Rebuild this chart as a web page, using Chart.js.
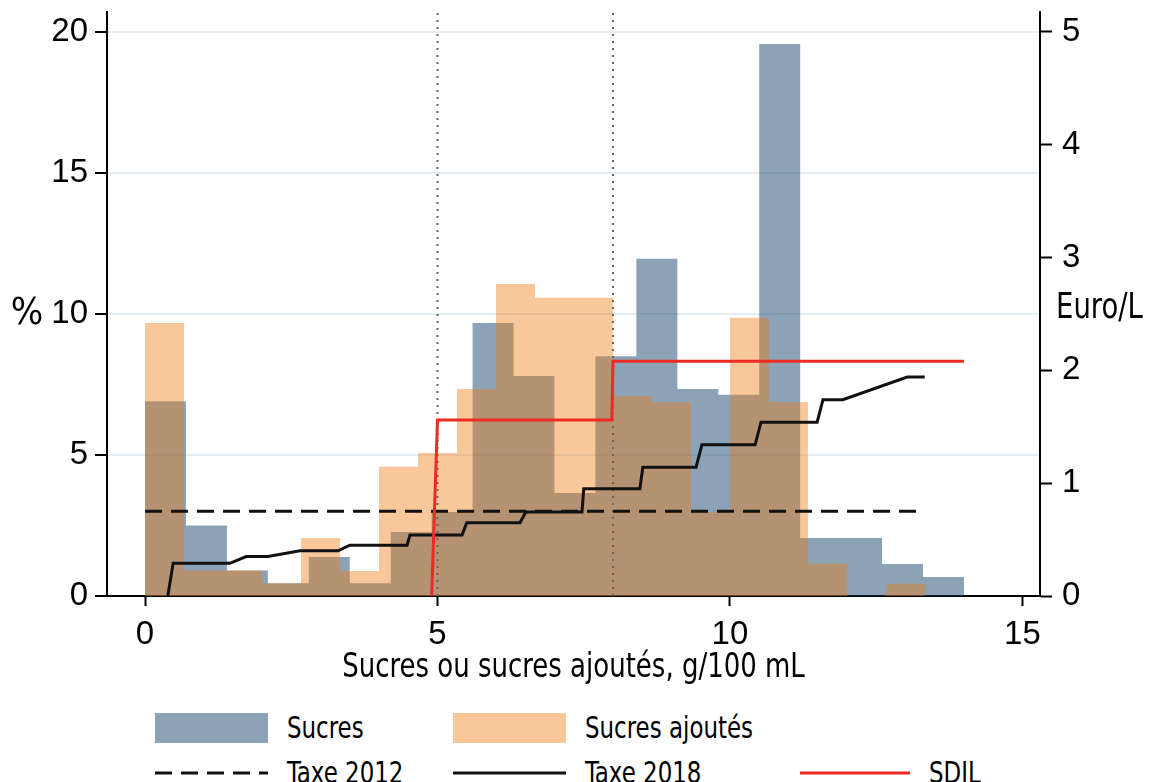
<!DOCTYPE html>
<html>
<head>
<meta charset="utf-8">
<script src="https://cdn.jsdelivr.net/npm/chart.js@4.4.1/dist/chart.umd.min.js"></script>
<style>
    html, body { margin: 0; padding: 0; background: #ffffff; }
    #wrap {
        position: relative;
        width: 1150px;
        height: 782px;
        overflow: hidden;
        font-family: "DejaVu Sans Condensed", "Liberation Sans Narrow", sans-serif;
    }
    #chartBox { position: absolute; left: 0; top: 0; width: 1150px; height: 700px; }
    #legend {
        position: absolute;
        left: 155px;
        top: 705px;
        display: grid;
        grid-template-columns: 298px 347px 220px;
        grid-auto-rows: 45px;
        align-items: center;
    }
    .item { display: flex; align-items: center; font-size: 30px; color: #000; white-space: nowrap; }
    .item span.txt { display: inline-block; transform: scaleX(0.85); transform-origin: left center; }
    .swatch { width: 113px; height: 30px; margin-right: 19px; flex: none; }
    .lineSwatch { margin-right: 19px; flex: none; display: block; }
</style>
</head>
<body>
<div id="wrap">
    <div id="chartBox"><canvas id="sugarChart"></canvas></div>
    <div id="legend"></div>
</div>
<script>
const xTicks = [0, 5, 10, 15];
const yTicks = [0, 5, 10, 15, 20];
const y2Ticks = [0, 1, 2, 3, 4, 5];

// histogramme des sucres (%), bornes des classes en g/100 mL
const sucresEdges = [0, 0.7, 1.4, 2.1, 2.8, 3.5, 4.2, 4.9, 5.6, 6.3, 7.0, 7.7, 8.4, 9.1, 9.8, 10.5, 11.2, 11.9, 12.6, 13.3, 14.0];
const sucresPct = [6.9, 2.5, 0.9, 0.45, 1.38, 0.45, 2.27, 2.98, 9.68, 7.8, 3.65, 8.5, 11.95, 7.34, 7.13, 19.57, 2.06, 2.06, 1.13, 0.67];

const ajoutesEdges = [0, 0.667, 1.333, 2.0, 2.667, 3.333, 4.0, 4.667, 5.333, 6.0, 6.667, 7.333, 8.0, 8.667, 9.333, 10.0, 10.667, 11.333, 12.0, 12.667, 13.333];
const ajoutesPct = [9.68, 0.9, 0.9, 0.45, 2.06, 0.89, 4.58, 5.07, 7.34, 11.06, 10.57, 10.57, 7.09, 6.88, 2.98, 9.86, 6.88, 1.15, 0, 0.43];

// taxes en Euro/L
const taxe2012X = [0, 13.33];
const taxe2012Y = [0.75, 0.75];

const taxe2018X = [0.39, 0.48, 1.45, 1.73, 2.10, 2.65, 3.30, 3.50, 4.48, 4.53, 5.42, 5.50, 6.41, 6.51, 7.47, 7.50, 8.46, 8.51, 9.42, 9.52, 10.43, 10.53, 11.49, 11.59, 11.93, 13.03, 13.33];
const taxe2018Y = [0, 0.29, 0.29, 0.35, 0.35, 0.40, 0.40, 0.45, 0.45, 0.54, 0.54, 0.65, 0.65, 0.745, 0.745, 0.95, 0.95, 1.14, 1.14, 1.34, 1.34, 1.54, 1.54, 1.74, 1.74, 1.94, 1.94];

const sdilX = [4.9, 5.0, 7.98, 8.0, 14.0];
const sdilY = [0, 1.56, 1.56, 2.08, 2.08];

const seuils = [5, 8];

const blueFill = "rgba(26, 71, 111, 0.5)";
const orangeFill = "rgba(238, 124, 17, 0.42)";
const textFont = '"DejaVu Sans Condensed", "Liberation Sans Narrow", sans-serif';
const squeeze = 0.85;

function histPoints(edges, values) {
    const pts = values.map((v, i) => ({ x: edges[i], y: v }));
    pts.push({ x: edges[edges.length - 1], y: 0 });
    return pts;
}

function toPoints(xs, ys) {
    return xs.map((x, i) => ({ x: x, y: ys[i] }));
}

function squeezedText(ctx, text, x, y, align, sx) {
    ctx.save();
    ctx.translate(x, y);
    ctx.scale(sx, 1);
    ctx.textAlign = align;
    ctx.fillText(text, 0, 0);
    ctx.restore();
}

const axisLabels = {
    id: "axisLabels",
    afterDraw(chart) {
        const ctx = chart.ctx;
        const area = chart.chartArea;
        ctx.save();
        ctx.fillStyle = "#000";
        ctx.textBaseline = "middle";
        ctx.font = `38px ${textFont}`;
        squeezedText(ctx, "%", 27, chart.scales.y.getPixelForValue(10), "center", 1);
        ctx.font = `36px ${textFont}`;
        squeezedText(ctx, "Euro/L", 1056, chart.scales.y2.getPixelForValue(2.55), "left", squeeze);
        ctx.font = `34px ${textFont}`;
        squeezedText(ctx, "Sucres ou sucres ajoutés, g/100 mL", (area.left + area.right) / 2, 668, "center", squeeze);
        ctx.restore();
    }
};

const datasets = [
    {
        label: "Sucres",
        data: histPoints(sucresEdges, sucresPct),
        yAxisID: "y",
        stepped: "before",
        fill: "origin",
        backgroundColor: blueFill,
        borderWidth: 0,
        pointRadius: 0,
        order: 10,
        legendType: "box"
    },
    {
        label: "Sucres ajoutés",
        data: histPoints(ajoutesEdges, ajoutesPct),
        yAxisID: "y",
        stepped: "before",
        fill: "origin",
        backgroundColor: orangeFill,
        borderWidth: 0,
        pointRadius: 0,
        order: 9,
        legendType: "box"
    },
    {
        label: "Taxe 2012",
        data: toPoints(taxe2012X, taxe2012Y),
        yAxisID: "y2",
        borderColor: "#111",
        borderWidth: 3,
        borderDash: [17, 9],
        pointRadius: 0,
        fill: false,
        order: 3,
        legendType: "line"
    },
    {
        label: "Taxe 2018",
        data: toPoints(taxe2018X, taxe2018Y),
        yAxisID: "y2",
        borderColor: "#111",
        borderWidth: 3,
        pointRadius: 0,
        fill: false,
        order: 2,
        legendType: "line"
    },
    {
        label: "SDIL",
        data: toPoints(sdilX, sdilY),
        yAxisID: "y2",
        borderColor: "#ee2a24",
        borderWidth: 3,
        pointRadius: 0,
        fill: false,
        order: 1,
        legendType: "line"
    }
];

seuils.forEach(s => {
    datasets.push({
        data: [{ x: s, y: 0 }, { x: s, y: 20.7 }],
        yAxisID: "y",
        borderColor: "#666",
        borderWidth: 2,
        borderDash: [2, 5],
        pointRadius: 0,
        fill: false,
        order: 5
    });
});

const tickFont = { family: "Liberation Sans", size: 33 };

const sugarChart = new Chart(document.getElementById("sugarChart"), {
    type: "line",
    data: { datasets: datasets },
    plugins: [axisLabels],
    options: {
        responsive: true,
        maintainAspectRatio: false,
        animation: false,
        layout: { padding: { top: 12, left: 0, right: 0, bottom: 0 } },
        plugins: {
            legend: { display: false },
            tooltip: { enabled: false }
        },
        elements: { line: { tension: 0 } },
        scales: {
            x: {
                type: "linear",
                min: -0.65,
                max: 15.3,
                afterBuildTicks: s => { s.ticks = xTicks.map(v => ({ value: v })); },
                afterFit: s => { s.height = 104; s.paddingLeft = 0; s.paddingRight = 0; },
                grid: { drawOnChartArea: false, tickLength: 10, tickColor: "#000", tickWidth: 2 },
                border: { color: "#000", width: 2 },
                ticks: { color: "#000", font: tickFont, padding: 9, maxRotation: 0 }
            },
            y: {
                position: "left",
                min: 0,
                max: 20.7,
                afterBuildTicks: s => { s.ticks = yTicks.map(v => ({ value: v })); },
                afterFit: s => { s.width = 107; s.paddingTop = 0; s.paddingBottom = 0; },
                grid: {
                    color: ctx => (ctx.tick && ctx.tick.value === 0 ? "rgba(0,0,0,0)" : "#e4edf2"),
                    lineWidth: 2,
                    tickLength: 12,
                    tickColor: "#000",
                    tickWidth: 2
                },
                border: { color: "#000", width: 2 },
                ticks: { color: "#000", font: tickFont, padding: 7 }
            },
            y2: {
                position: "right",
                min: 0,
                max: 5.175,
                afterBuildTicks: s => { s.ticks = y2Ticks.map(v => ({ value: v })); },
                afterFit: s => { s.width = 110; s.paddingTop = 0; s.paddingBottom = 0; },
                grid: { drawOnChartArea: false, tickLength: 12, tickColor: "#000", tickWidth: 2 },
                border: { color: "#000", width: 2 },
                ticks: { color: "#000", font: tickFont, padding: 10 }
            }
        }
    }
});

function buildLegend(chart) {
    const legend = document.getElementById("legend");
    const items = chart.data.datasets.filter(ds => ds.label);
    items.forEach((ds, i) => {
        const div = document.createElement("div");
        div.className = "item";
        if (ds.legendType === "box") {
            div.innerHTML = `<span class="swatch" style="background:${ds.backgroundColor}"></span>`;
        } else {
            const w = ds.label === "SDIL" ? 110 : 113;
            const dash = ds.borderDash ? `stroke-dasharray="${ds.borderDash.join(" ")}"` : "";
            div.innerHTML = `<svg class="lineSwatch" width="${w}" height="8"><line x1="0" y1="4" x2="${w}" y2="4" stroke="${ds.borderColor}" stroke-width="3" ${dash}/></svg>`;
        }
        const span = document.createElement("span");
        span.className = "txt";
        span.textContent = ds.label;
        div.appendChild(span);
        legend.appendChild(div);
        // deuxième ligne de la légende après les histogrammes
        if (i === 1) legend.appendChild(document.createElement("div"));
    });
}

buildLegend(sugarChart);
</script>
</body>
</html>
